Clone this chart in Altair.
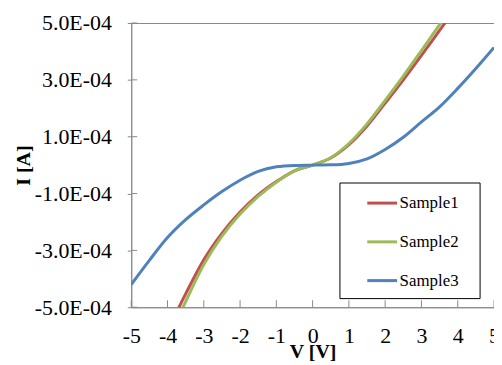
import altair as alt
import pandas as pd

# ---- data (current in units of 1e-4 A) ----
V_BLUE = [-5, -4.5, -4, -3.5, -3, -2.5, -2, -1.5, -1, -0.5, 0,
          0.5, 1, 1.5, 2, 2.5, 3, 3.5, 4, 4.5, 5]
V_RG = [-4, -3.5, -3, -2.5, -2, -1.5, -1, -0.5, 0,
        0.5, 1, 1.5, 2, 2.5, 3, 3.5, 4]
SAMPLE1 = [-5.83, -4.53, -3.33, -2.4, -1.65, -1.05, -0.58, -0.2, 0,
           0.25, 0.72, 1.38, 2.18, 3.0, 3.86, 4.74, 5.62]
SAMPLE2 = [-6.2, -4.8, -3.5, -2.5, -1.72, -1.1, -0.6, -0.2, 0,
           0.26, 0.76, 1.45, 2.28, 3.13, 4.03, 4.94, 5.86]
SAMPLE3 = [-4.2, -3.35, -2.55, -1.92, -1.4, -0.93, -0.53, -0.22, -0.06, -0.01, 0,
           0.01, 0.06, 0.22, 0.55, 0.98, 1.52, 2.05, 2.7, 3.4, 4.14]
SERIES = ["Sample1", "Sample2", "Sample3"]
COLORS = ["#C0504D", "#9BBB59", "#4F81BD"]
X_TICKS = [-5, -4, -3, -2, -1, 0, 1, 2, 3, 4, 5]
Y_TICKS = [-5e-4, -3e-4, -1e-4, 1e-4, 3e-4, 5e-4]

rows = []
for name, vs, cs in [("Sample1", V_RG, SAMPLE1), ("Sample2", V_RG, SAMPLE2),
                     ("Sample3", V_BLUE, SAMPLE3)]:
    for v, c in zip(vs, cs):
        rows.append({"V": v, "I": c * 1e-4, "Sample": name})
df = pd.DataFrame(rows)

W, H = 365, 286
FONT = "Liberation Serif"
AX = "#888888"

xscale = alt.Scale(domain=[-5, 5], nice=False, zero=False)
yscale = alt.Scale(domain=[-5e-4, 5e-4], nice=False, zero=False)

X_AXIS = alt.Axis(
    values=X_TICKS, title="V [V]",
    labelExpr="(datum.value < 0 ? '-' : '') + abs(datum.value)",
    ticks=False, tickSize=0, labelPadding=18, grid=False, domainColor=AX,
    labelFlush=False, labelOverlap=False,
    labelFont=FONT, labelFontSize=22, labelColor="#000000",
    titleFont=FONT, titleFontSize=20, titleFontWeight="bold", titleColor="#000000",
    titleX=W / 2, titleY=51, titleBaseline="alphabetic")
Y_AXIS = alt.Axis(
    values=Y_TICKS, title="I [A]",
    labelExpr="(datum.value < 0 ? '-' : '') + format(abs(datum.value) * 10000, '.1f') + 'E-04'",
    tickSize=4, tickColor=AX, labelPadding=16, grid=False, domainColor=AX,
    labelFlush=False, labelOverlap=False,
    labelFont=FONT, labelFontSize=22, labelColor="#000000",
    titleFont=FONT, titleFontSize=20, titleFontWeight="bold", titleColor="#000000",
    titleX=-108, titleY=H / 2, titleBaseline="middle", titleAngle=270)

lines = alt.Chart(df).mark_line(strokeWidth=3, clip=True, interpolate="monotone").encode(
    x=alt.X("V:Q", scale=xscale, axis=X_AXIS),
    y=alt.Y("I:Q", scale=yscale, axis=Y_AXIS),
    color=alt.Color("Sample:N", scale=alt.Scale(domain=SERIES, range=COLORS),
                    legend=alt.Legend(orient="none", legendX=236, legendY=164.7, title=None,
                                      symbolType="stroke", symbolSize=900, symbolStrokeWidth=3,
                                      labelFont=FONT, labelFontSize=17, labelColor="#000000",
                                      labelOffset=1, rowPadding=14, padding=0)),
)

ytick_df = pd.DataFrame({"I": Y_TICKS})
yticks = alt.Chart(ytick_df).mark_rule(color=AX, strokeWidth=1).encode(
    y=alt.Y("I:Q", scale=yscale, axis=Y_AXIS), x=alt.value(0), x2=alt.value(6))

xtick_df = pd.DataFrame({"V": X_TICKS})
xticks = alt.Chart(xtick_df).mark_rule(color=AX, strokeWidth=1).encode(
    x=alt.X("V:Q", scale=xscale, axis=X_AXIS), y=alt.value(H - 7), y2=alt.value(H))

box = alt.Chart(pd.DataFrame({"k": [0]})).mark_rect(fill="white", stroke="black", strokeWidth=1).encode(
    x=alt.value(210), x2=alt.value(351), y=alt.value(161), y2=alt.value(277.3))

chart = alt.layer(lines, yticks, xticks, box).properties(
    width=W, height=H,
    padding={"left": 124, "top": 14, "right": 0, "bottom": 55},
    autosize=alt.AutoSizeParams(type="none"),
).configure_view(stroke=AX, strokeWidth=1)

chart.save("out.html", embed_options={"renderer": "svg", "actions": False})
